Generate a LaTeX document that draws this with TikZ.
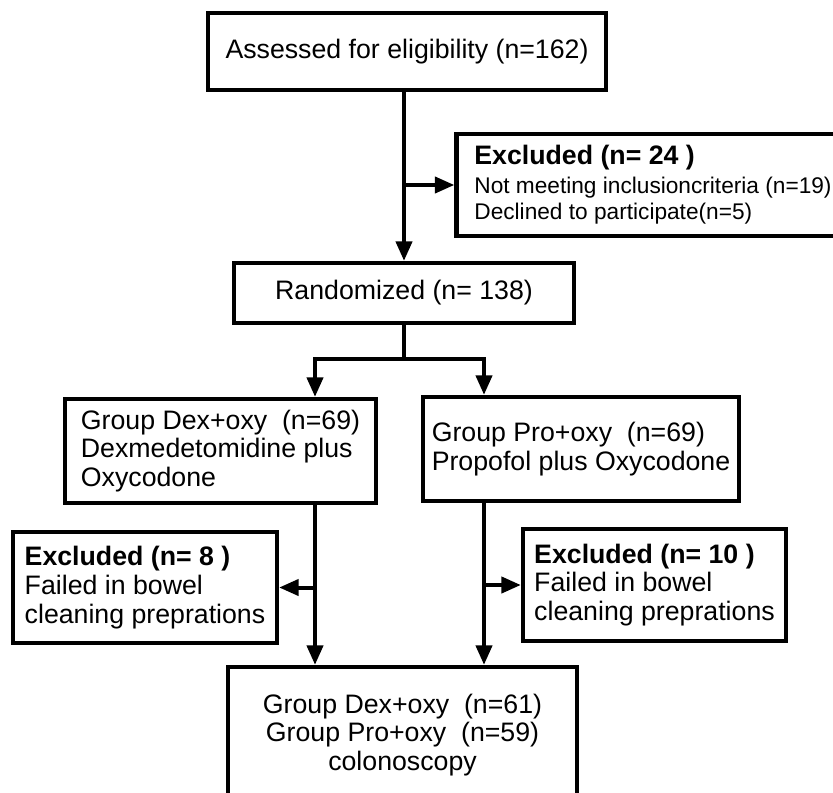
\documentclass[tikz,border=0pt]{standalone}
\usepackage{fontspec}
\setmainfont{Liberation Sans}
\usetikzlibrary{arrows.meta}
\tikzset{
  caja/.style={rectangle,draw=black,line width=0.85mm,fill=white,align=left,
    inner sep=2pt,font=\fontsize{15.2}{16.4}\selectfont},
  cajac/.style={caja,align=center},
  flecha/.style={-{Triangle[length=3.9mm,width=3.2mm]},line width=0.8mm},
  linea/.style={line width=0.8mm},
}
\begin{document}
\begin{tikzpicture}[x=0.2mm,y=-0.2mm]
  \useasboundingbox (0,0) rectangle (833,792);
  \node[cajac,minimum width=79.6mm,minimum height=15.4mm] (eval) at (407,51.5) {Assessed for eligibility (n=162)};
  \node[caja,minimum width=78.6mm,minimum height=20.4mm,font=\fontsize{12.9}{14.8}\selectfont] (excl) at (653,185)
    {\textbf{\fontsize{15.2}{16.4}\selectfont Excluded (n= 24 )}\\[1.7pt]Not meeting inclusioncriteria (n=19)\\Declined to participate(n=5)};
  \node[cajac,minimum width=68mm,minimum height=12mm] (aleat) at (404,293) {Randomized (n= 138)};
  \node[caja,minimum width=62.2mm,minimum height=20.8mm] (dex) at (220.5,451) {Group Dex+oxy~~(n=69)\\Dexmedetomidine plus\\Oxycodone};
  \node[caja,minimum width=63.2mm,minimum height=20.8mm] (pro) at (581,449) {Group Pro+oxy~~(n=69)\\Propofol plus Oxycodone};
  \node[caja,minimum width=52.8mm,minimum height=22.2mm] (exdex) at (145,587.5) {\textbf{Excluded (n= 8 )}\\Failed in bowel\\cleaning preprations};
  \node[caja,minimum width=52.6mm,minimum height=22.4mm] (expro) at (654.5,585) {\textbf{Excluded (n= 10 )}\\Failed in bowel\\cleaning preprations};
  \node[cajac,minimum width=69.8mm,minimum height=27.2mm] (final) at (402.5,735) {Group Dex+oxy~~(n=61)\\Group Pro+oxy~~(n=59)\\colonoscopy};
  \coordinate (cizq) at (315,0);
  \coordinate (cder) at (484,0);
  \coordinate (sp) at (404,359);
  \coordinate (r1) at (aleat.north |- excl.west);
  \draw[flecha] (eval.south -| aleat.north) -- (aleat.north);
  \draw[flecha] (r1) -- (excl.west);
  \draw[linea] (aleat.south) -- (sp);
  \draw[flecha] (sp) -| (cizq |- dex.north);
  \draw[flecha] (sp) -| (cder |- pro.north);
  \draw[flecha] (cizq |- dex.south) -- (cizq |- final.north);
  \draw[flecha] (cizq |- exdex.east) -- (exdex.east);
  \draw[flecha] (cder |- pro.south) -- (cder |- final.north);
  \draw[flecha] (cder |- expro.west) -- (expro.west);
\end{tikzpicture}
\end{document}
